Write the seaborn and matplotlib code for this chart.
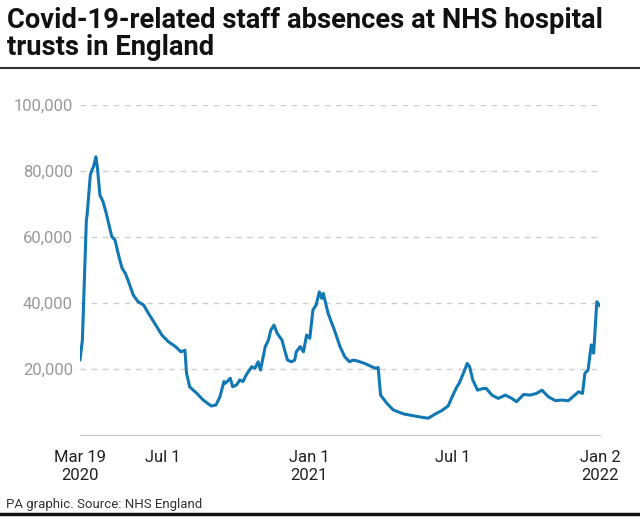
import pandas as pd
import matplotlib.pyplot as plt
import matplotlib.ticker as mticker
import seaborn as sns

# Readings: days since Mar 19 2020 and staff absent (thousands)
start_date = "2020-03-19"
day_offsets = [0, 3, 8, 9, 13, 15, 17, 20, 22, 25,
               29, 33, 40, 44, 49, 53, 57, 61, 67, 73,
               80, 86, 94, 103, 111, 120, 127, 132, 134, 138,
               147, 155, 165, 171, 176, 181, 183, 189, 192, 197,
               201, 205, 209, 216, 220, 224, 227, 233, 237, 240,
               244, 248, 254, 258, 261, 266, 270, 272, 277, 281,
               285, 289, 293, 297, 301, 304, 306, 312, 316, 320,
               327, 333, 339, 343, 348, 358, 367, 372, 375, 378,
               386, 394, 407, 420, 432, 438, 447, 455, 463, 469,
               474, 477, 483, 487, 490, 494, 500, 507, 511, 518,
               526, 535, 543, 549, 558, 566, 574, 581, 589, 598,
               606, 614, 620, 627, 632, 635, 639, 643, 646, 650,
               654]
absent_k = [22.7, 28.8, 65.2, 66.8, 78.8, 80.3, 81.3, 84.3, 80.8, 72.7,
            70.7, 67.2, 60.1, 59.1, 54.0, 50.5, 49.0, 46.5, 42.4, 40.4,
            39.4, 36.9, 33.8, 30.3, 28.3, 26.8, 25.2, 25.7, 18.7, 14.6,
            12.6, 10.6, 8.8, 9.1, 11.6, 16.2, 15.7, 17.2, 14.6, 15.2,
            16.7, 16.2, 18.2, 20.7, 20.2, 22.2, 19.7, 26.8, 28.8, 31.8,
            33.3, 30.8, 28.8, 25.2, 22.7, 22.2, 22.7, 25.2, 26.8, 25.2,
            30.3, 29.3, 37.9, 39.4, 43.4, 41.4, 42.9, 36.9, 34.3, 31.8,
            26.8, 23.7, 22.2, 22.7, 22.5, 21.7, 20.7, 20.2, 20.5, 12.1,
            9.6, 7.6, 6.4, 5.8, 5.3, 5.1, 6.4, 7.4, 8.8, 12.1,
            14.6, 15.7, 19.2, 21.7, 20.7, 16.7, 13.6, 14.1, 14.1, 12.1,
            11.1, 12.1, 11.1, 10.1, 12.3, 12.1, 12.6, 13.6, 11.6, 10.4,
            10.6, 10.4, 11.6, 13.1, 12.6, 18.7, 19.7, 27.3, 24.8, 40.4,
            39.1]

tick_dates = ["2020-03-19", "2020-07-01", "2021-01-01", "2021-07-01", "2022-01-02"]
tick_labels = ["Mar 19\n2020", "Jul 1", "Jan 1\n2021", "Jul 1", "Jan 2\n2022"]
y_ticks = [20000, 40000, 60000, 80000, 100000]

df = pd.DataFrame({
    "date": pd.Timestamp(start_date) + pd.to_timedelta(day_offsets, unit="D"),
    "absences": [v * 1000 for v in absent_k],
})

sns.set_style("white")
plt.rcParams["font.family"] = ["Roboto", "DejaVu Sans"]

fig = plt.figure(figsize=(6.4, 5.21), dpi=100)
ax = fig.add_axes([0.125, 0.165, 0.8125, 0.6335])

sns.lineplot(data=df, x="date", y="absences", ax=ax, color="#1278b4", linewidth=2.2)

ax.set_xlim(pd.Timestamp("2020-03-19"), pd.Timestamp("2022-01-02"))
ax.set_ylim(0, 100000)
ax.set_yticks(y_ticks)
ax.yaxis.set_major_formatter(mticker.FuncFormatter(lambda v, p: f"{int(v):,}"))
ax.yaxis.grid(True, linestyle=(0, (4, 4)), color="#cccccc", linewidth=1)
ax.set_axisbelow(True)
ax.tick_params(axis="y", length=0, pad=5, labelsize=12, labelcolor="#999999")

ax.set_xticks(pd.to_datetime(tick_dates))
ax.set_xticklabels(tick_labels)
ax.tick_params(axis="x", length=7, width=1, color="#c8c8c8", pad=4,
               labelsize=12, labelcolor="#222222")

for s in ["top", "right", "left"]:
    ax.spines[s].set_visible(False)
ax.spines["bottom"].set_color("#c8c8c8")
ax.set_xlabel("")
ax.set_ylabel("")

fig.text(0.011, 0.987, "Covid-19-related staff absences at NHS hospital\ntrusts in England",
         ha="left", va="top", fontsize=19.7, fontweight="bold", color="#111111",
         linespacing=1.0)
fig.add_artist(plt.Line2D([0, 1], [0.869, 0.869], color="#333333", linewidth=1.5))
fig.text(0.01, 0.031, "PA graphic. Source: NHS England", ha="left", va="center",
         fontsize=9.5, color="#333333")
fig.add_artist(plt.Line2D([0, 1], [0.013, 0.013], color="#111111", linewidth=2.5))

fig.savefig("out.png", dpi=100)
